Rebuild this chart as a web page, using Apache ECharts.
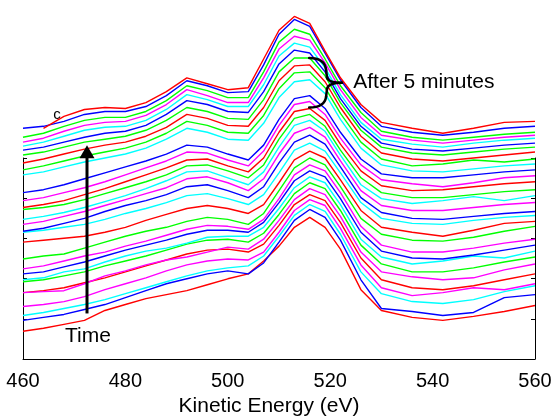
<!DOCTYPE html>
<html><head><meta charset="utf-8">
<script src="https://cdn.jsdelivr.net/npm/echarts@6/dist/echarts.min.js"></script>
<style>html,body{margin:0;padding:0;background:#fff}#c{width:559px;height:418px}</style>
</head><body><div id="c"></div>
<script>
// Kinetic energy sample points (eV)
const energies = [460,464,468,472,476,480,484,488,492,496,500,504,507,510,513,516,519,522,526,530,536,542,548,554,560];
const xTicks = [460,480,500,520,540,560];
// Stacked spectra (offset intensities, arbitrary units), bottom (earliest) to top (latest)
const s00 = [28,31,35,39,49,55,61,65,69,75,81,86,99,114,133,143,133,111,70,49,42,39,43,48,54];
const s01 = [39,42,45,50,55,62,69,76,81,86,89,86,97,118,140,151,143,120,80,51,48,44,47,62,65];
const s02 = [44,47,51,55,60,66,72,78,84,89,92,94,104,124,145,156,149,126,88,66,58,56,60,68,74];
const s03 = [53,55,58,63,70,76,82,89,95,99,101,100,108,128,150,161,155,132,95,72,64,67,72,70,76];
const s04 = [67,69,72,77,82,88,94,100,106,110,111,108,116,135,156,166,160,138,102,80,72,70,74,80,86];
const s05 = [67,68,69,76,84,89,95,100,103,108,113,111,121,140,161,172,166,144,108,88,83,80,82,90,96];
const s06 = [78,80,84,88,94,99,104,110,116,120,121,118,127,146,167,178,172,150,115,96,88,88,92,98,103];
const s07 = [80,82,88,91,98,104,109,112,117,123,124,124,133,152,173,184,178,156,121,103,96,99,104,102,109];
const s08 = [86,88,93,98,104,110,115,120,126,130,130,128,138,158,180,190,184,162,128,109,102,101,105,110,115];
const s09 = [91,94,99,104,108,114,119,125,131,135,134,131,141,162,186,196,190,168,134,115,108,108,112,117,121];
const s10 = [101,104,106,112,118,124,129,133,139,143,141,136,147,170,193,203,196,174,142,126,120,119,123,129,134];
const s11 = [118,120,122,124,128,133,140,146,152,155,152,147,156,178,201,210,203,181,150,133,128,124,130,137,139];
const s12 = [128,130,133,136,141,147,152,158,165,167,162,156,166,188,211,218,210,188,158,142,137,136,140,143,145];
const s13 = [129,132,137,142,149,155,160,166,174,176,170,163,174,198,219,226,217,194,163,148,142,141,144,147,149];
const s14 = [136,139,144,149,155,161,167,173,182,184,178,170,182,207,228,234,224,200,170,155,150,150,153,156,158];
const s15 = [141,144,148,153,159,165,172,180,189,190,183,176,189,214,236,241,230,206,176,162,157,160,164,160,165];
const s16 = [151,153,156,161,167,173,179,186,195,196,190,183,196,222,243,247,235,211,183,168,163,163,166,169,171];
const s17 = [153,156,160,166,172,179,186,193,201,202,195,189,203,229,250,253,241,217,190,175,170,171,174,177,179];
const s18 = [160,163,168,173,179,186,193,200,209,208,201,195,210,236,257,260,247,223,196,181,177,174,178,183,185];
const s19 = [168,171,176,182,188,194,200,207,216,214,207,201,216,242,263,266,253,229,202,187,183,183,186,189,191];
const s20 = [186,189,194,199,203,207,213,222,233,229,222,221,238,264,280,282,268,242,213,196,190,189,192,195,197];
const s21 = [191,195,200,205,209,213,219,228,240,236,229,228,246,273,289,290,274,248,219,202,195,197,201,199,202];
const s22 = [198,202,207,212,216,219,225,234,247,243,236,235,254,281,296,297,280,254,225,208,202,200,203,206,209];
const s23 = [206,209,214,219,222,225,231,241,254,250,243,242,262,290,304,304,286,259,231,214,208,206,209,212,214];
const s24 = [211,214,219,224,228,230,236,247,261,257,250,249,270,298,312,309,290,263,235,218,212,210,213,216,218];
const s25 = [215,219,225,231,234,235,241,252,267,262,255,255,277,306,319,315,294,267,239,222,217,214,218,221,223];
const s26 = [219,223,230,236,239,240,246,257,272,266,259,259,284,313,326,322,299,272,244,226,221,218,221,224,226];
const s27 = [224,228,235,241,244,244,250,261,276,271,264,264,290,320,333,328,303,276,249,230,224,221,224,227,229];
const s28 = [233,235,240,247,250,250,255,266,281,276,269,270,297,328,343,336,309,282,254,235,229,226,229,233,235];
const s29 = [null,233,245,252,254,253,259,270,284,278,272,274,303,332,346,339,311,284,257,239,233,228,233,239,240];
const seriesValues = [s00,s01,s02,s03,s04,s05,s06,s07,s08,s09,s10,s11,s12,s13,s14,s15,s16,s17,s18,s19,s20,s21,s22,s23,s24,s25,s26,s27,s28,s29];
const R='#ff0000',B='#0000ff',C='#00ffff',M='#ff00ff',G='#00ff00';
const lineColors = [R,B,C,M,R,M,G,C,B,M,G,R,C,B,M,C,G,R,M,B,C,G,R,G,B,C,M,G,B,R];
// Annotation anchors in data coordinates
const arrowAt = {energy:472.5, from:46, to:216};
const braceBox = {energy:[515.9,522.3], height:[304,254]};
const labels = [
  {text:'After 5 minutes', energy:524.5, height:280},
  {text:'Time', energy:468.2, height:23},
  {text:'c', energy:465.9, height:247, size:15}
];

const chart = echarts.init(document.getElementById('c'));
const series = seriesValues.map((vals,i)=>({
  type:'line',
  data: energies.map((e,j)=>[e, vals[j]]).filter(p=>p[1]!==null),
  symbol:'none', clip:false, silent:true, animation:false,
  lineStyle:{color:lineColors[i], width:1.4},
  itemStyle:{color:lineColors[i]}
}));
const yAx = (pos)=>({type:'value',min:0,max:203,interval:40.6,position:pos,
  axisLine:{show:true,onZero:false,lineStyle:{color:'#000',width:1}},
  axisTick:{show:true,inside:true,length:4,lineStyle:{color:'#000'}},
  axisLabel:{show:false},splitLine:{show:false}});
chart.setOption({
  animation:false,
  grid:{left:23,right:24,top:158,bottom:57},
  xAxis:{type:'value',min:460,max:560,interval:20,
    axisLine:{onZero:false,lineStyle:{color:'#000',width:1}},
    axisTick:{show:false},splitLine:{show:false},
    axisLabel:{color:'#000',fontFamily:'Liberation Sans',fontSize:20,margin:12,
      formatter:(v)=>xTicks.includes(v)?String(v):''},
    name:'Kinetic Energy (eV)',nameLocation:'middle',nameGap:37,
    nameTextStyle:{color:'#000',fontFamily:'Liberation Sans',fontSize:21,padding:[0,20,0,0]}},
  yAxis:[yAx('left'),yAx('right')],
  series
});

const px = (e,h)=>chart.convertToPixel({xAxisIndex:0,yAxisIndex:0},[e,h]);
const a0 = px(arrowAt.energy, arrowAt.from), a1 = px(arrowAt.energy, arrowAt.to);
const b0 = px(braceBox.energy[0], braceBox.height[0]), b1 = px(braceBox.energy[1], braceBox.height[1]);
const sx = (b1[0]-b0[0])/33, sy = (b1[1]-b0[1])/50;
const T = (x,y)=>[b0[0]+x*sx, b0[1]+y*sy];
const bez = (p0,c1,c2,p1)=>{const a=T(...p0),b=T(...c1),c=T(...c2),d=T(...p1);
  return {type:'bezierCurve',z:50,shape:{x1:a[0],y1:a[1],cpx1:b[0],cpy1:b[1],cpx2:c[0],cpy2:c[1],x2:d[0],y2:d[1]},
    style:{fill:null,stroke:'#000',lineWidth:2.5,lineCap:'round'}};};
const seg = (p0,p1)=>{const a=T(...p0),d=T(...p1);
  return {type:'line',z:50,shape:{x1:a[0],y1:a[1],x2:d[0],y2:d[1]},style:{stroke:'#000',lineWidth:2.5,lineCap:'round'}};};
const graphic = [
  {type:'line',z:50,shape:{x1:a0[0],y1:a0[1],x2:a1[0],y2:a1[1]+12},style:{stroke:'#000',lineWidth:3}},
  {type:'polygon',z:50,shape:{points:[[a1[0],a1[1]],[a1[0]-7.5,a1[1]+13],[a1[0]+7.5,a1[1]+13]]},style:{fill:'#000'}},
  bez([0,0],[10,0],[16,3],[17,12]), seg([17,12],[18,20]), bez([18,20],[19,24],[24,25],[33,25]),
  bez([33,25],[24,25],[19,27],[18,31]), seg([18,31],[17,39]), bez([17,39],[16,47],[10,50],[0,50])
].concat(labels.map(l=>{const p=px(l.energy,l.height);return {type:'text',z:l.size?1:50,x:p[0],y:p[1],
  style:{text:l.text,fill:'#000',font:(l.size||21)+'px "Liberation Sans"',verticalAlign:'middle',align:'left'}};}));
chart.setOption({graphic});
</script></body></html>
